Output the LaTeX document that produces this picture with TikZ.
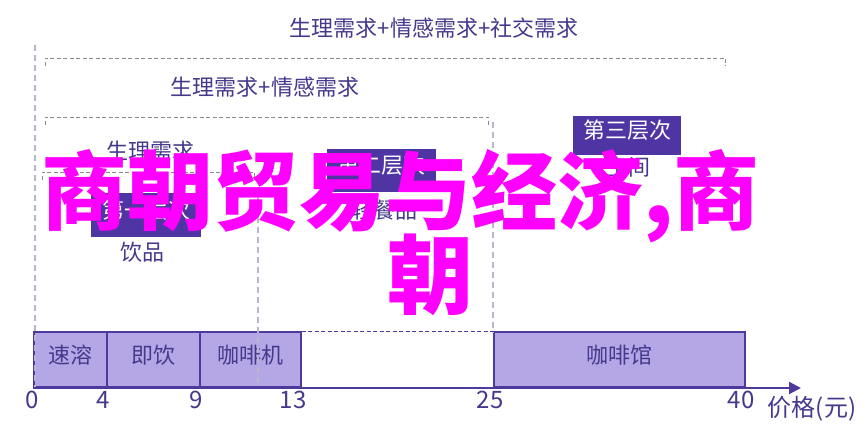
\documentclass[tikz,border=0pt]{standalone}
\usepackage{fontspec}
\setmainfont{Noto Sans CJK SC}
\usetikzlibrary{arrows.meta}
\definecolor{txtc}{HTML}{45398C}
\definecolor{boxc}{HTML}{4F35A3}
\definecolor{barfill}{HTML}{B5A6E6}
\definecolor{barline}{HTML}{4D3A9C}
\definecolor{brkc}{HTML}{8A8A8A}
\definecolor{vlc}{HTML}{B8B8CC}
\definecolor{mag}{HTML}{FF00FF}
\tikzset{
  lbl/.style={text=txtc, font=\fontsize{22}{26}\selectfont, inner sep=0pt, text height=0.8em, text depth=0.1em},
  num/.style={text=txtc, font=\fontsize{24}{28}\selectfont, inner sep=0pt, text height=0.72em, text depth=0em},
  lvl/.style={fill=boxc, text=white, font=\fontsize{22}{26}\selectfont, inner sep=0pt, text height=0.8em, text depth=0.1em},
  bar/.style={draw=barline, fill=barfill, line width=1.6pt, text=txtc, font=\fontsize{22}{26}\selectfont, minimum height=55pt, inner sep=0pt, anchor=south west, text height=0.8em, text depth=0.1em},
  brk/.style={draw=brkc, dash pattern=on 4pt off 2.5pt, line width=0.9pt},
  vline/.style={draw=vlc, line width=2.2pt, dash pattern=on 6pt off 4pt},
  gap/.style={draw=barline, dash pattern=on 4pt off 2.5pt, line width=1pt},
  axis/.style={draw=barline, line width=2.2pt, -{Triangle[length=12pt,width=12pt]}},
  big/.style={text=mag, font=\fontsize{86}{86}\selectfont\bfseries, inner sep=0pt}
}
\begin{document}
\begin{tikzpicture}[x=1pt,y=-1pt]
\useasboundingbox[fill=white] (0,0) rectangle (864,443);

% brackets
\coordinate (t1) at (45,66); \coordinate (t1a) at (45,58);
\coordinate (t2a) at (725,58); \coordinate (t2) at (725,66);
\draw[brk] (t1) -- (t1a) -- (t2a) -- (t2);
\node[lbl] (ltop) at (434,33) {生理需求+情感需求+社交需求};

\coordinate (s1) at (45,125); \coordinate (s1a) at (45,117);
\coordinate (s2a) at (488,117); \coordinate (s2) at (488,125);
\draw[brk] (s1) -- (s1a) -- (s2a) -- (s2);
\node[lbl] (lmid) at (265,92) {生理需求+情感需求};

\coordinate (r1) at (42,180); \coordinate (r1a) at (42,172);
\coordinate (r2a) at (254,172); \coordinate (r2) at (254,180);
\draw[brk] (r1) -- (r1a) -- (r2a) -- (r2);
\node[lbl] (llow) at (150,156) {生理需求};

% level boxes
\node[lvl, minimum width=110pt, minimum height=44pt] (lv1) at (146,215) {第一层次};
\node[lbl] (p1) at (142,257) {饮品};
\node[lvl, minimum width=109pt, minimum height=43pt] (lv2) at (381.5,170.5) {第二层次};
\node[lbl] (p2) at (384,215) {轻餐品};
\node[lvl, minimum width=108pt, minimum height=39pt] (lv3) at (627,135.5) {第三层次};
\node[lbl] (p3) at (628,172) {空间};

% bars
\node[bar, minimum width=73pt] (b1) at (33,388) {速溶};
\node[bar, minimum width=93pt] (b2) at (106,388) {即饮};
\node[bar, minimum width=101pt] (b3) at (199,388) {咖啡机};
\node[bar, minimum width=251pt] (b4) at (493,388) {咖啡馆};
\draw[gap] (b3.north east) -- (b4.north west);

% vertical dashed lines
\coordinate (v1a) at (35,45); \coordinate (v1b) at (35,388);
\coordinate (v2a) at (258,177); \coordinate (v2b) at (258,388);
\coordinate (v3a) at (493,122); \coordinate (v3b) at (493,333);
\draw[vline] (v1a) -- (v1b);
\draw[vline] (v2a) -- (v2b);
\draw[vline] (v3a) -- (v3b);

% axis
\coordinate (o) at (33,388);
\coordinate (xend) at (801,388);
\draw[axis] (o) -- (xend);
\node[num] (n0) at (32,405) {0};
\node[num] (n4) at (103,405) {4};
\node[num] (n9) at (196,405) {9};
\node[num] (n13) at (293,405) {13};
\node[num] (n25) at (490,405) {25};
\node[num] (n40) at (741,405) {40};
\node[num, text height=0.8em, text depth=0.1em] (unit) at (812,413) {价格(元)};

% overlay title
\node[big, anchor=base west] (tt1) at (41,224) {商朝贸易与经济,商};
\node[big, anchor=base] (tt2) at (430,308) {朝};
\end{tikzpicture}
\end{document}
